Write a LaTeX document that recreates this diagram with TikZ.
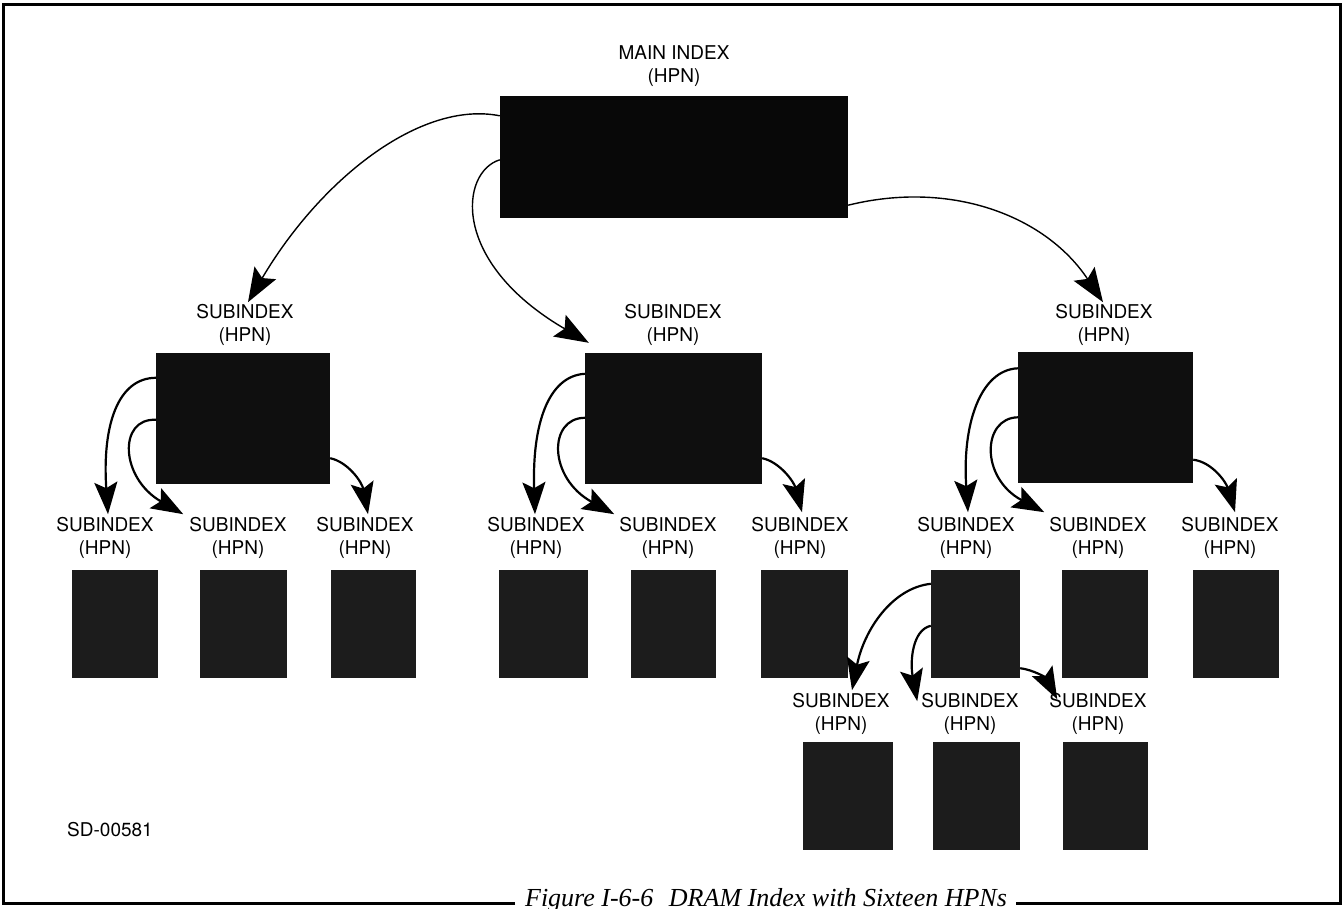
\documentclass[tikz,border=0pt]{standalone}
\usepackage{fontspec}
\usetikzlibrary{arrows.meta,calc}
\newfontfamily\lblfont{TeX Gyre Heros}
\newfontfamily\capfont{Liberation Serif}

\begin{document}
\begin{tikzpicture}[x=1pt,y=-1pt,
  lbl/.style={font=\lblfont\fontsize{19}{23}\selectfont, align=center, inner sep=0pt},
  bigbox/.style={fill=black!97, draw=none, inner sep=0pt},
  midbox/.style={fill=black!94, draw=none, inner sep=0pt, minimum height=131pt},
  smallbox/.style={fill=black!89, draw=none, inner sep=0pt, minimum height=108pt},
  thinarrow/.style={line width=1.4pt, -{Stealth[length=34pt,width=25pt,inset=6pt]}},
  thickarrow/.style={line width=2.2pt, -{Stealth[length=32pt,width=23pt,inset=6pt]}},
  frameline/.style={line width=3pt}
]
\useasboundingbox (0,0) rectangle (1344,909);

% outer frame, its bottom edge broken by the caption
\draw[frameline] (515,903) -- (3,903) -- (3,5) -- (1340,5) -- (1340,903) -- (1016,903);
\node[font=\capfont\itshape\fontsize{26}{30}\selectfont, anchor=base, inner sep=0pt] (cap) at (766,906) {Figure I-6-6\hspace{0.6em}DRAM Index with Sixteen HPNs};

% main index
\node[lbl] (mainlbl) at (674,66) {MAIN INDEX\\(HPN)};
\node[bigbox, minimum width=348pt, minimum height=122pt] (main) at (674,157) {};

% second level
\node[lbl] (l2a) at (245,325) {SUBINDEX\\(HPN)};
\node[lbl] (l2b) at (673,325) {SUBINDEX\\(HPN)};
\node[lbl] (l2c) at (1104,325) {SUBINDEX\\(HPN)};
\node[midbox, minimum width=174pt] (b2a) at (243,418.5) {};
\node[midbox, minimum width=177pt] (b2b) at (673.5,418.5) {};
\node[midbox, minimum width=175pt] (b2c) at (1105.5,417) {};

% third level
\foreach \n/\x in {a1/105,a2/238,a3/365,b1/536,b2/668,b3/800,c1/966,c2/1098,c3/1230}
  \node[lbl] (l3\n) at (\x,538) {SUBINDEX\\(HPN)};
\foreach \n/\x/\w in {a1/115/86,a2/243.5/87,a3/373.5/85,b1/543.5/89,b2/673.5/85,b3/804.5/87,c1/975.5/89,c2/1105/86,c3/1236/86}
  \node[smallbox, minimum width=\w pt] (b3\n) at (\x,624) {};

% fourth level
\foreach \n/\x in {a/841,b/970,c/1098}
  \node[lbl] (l4\n) at (\x,714) {SUBINDEX\\(HPN)};
\foreach \n/\x/\w in {a/848/90,b/976.5/87,c/1105.5/85}
  \node[smallbox, minimum width=\w pt] (b4\n) at (\x,796) {};

\node[font=\lblfont\fontsize{19}{23}\selectfont, inner sep=0pt] (sd) at (110,830) {SD-00581};

% main index pointers
\draw[thinarrow] ($(main.north west)+(0,20)$) .. controls (420,100) and (320,180) .. ([xshift=3pt,yshift=2pt]l2a.north);
\draw[thinarrow] ($(main.north west)+(0,64)$) .. controls (460,172) and (450,262) .. ($(b2b.north west)+(4,-10)$);
\draw[thinarrow] ($(main.south east)+(0,-13)$) .. controls (950,180) and (1045,215) .. ([xshift=-1pt,yshift=2pt]l2c.north);

% second level pointers
\draw[thickarrow] ($(b2a.north west)+(0,25)$) .. controls (118,378) and (102,425) .. ([xshift=3pt,yshift=3pt]l3a1.north);
\draw[thickarrow] ($(b2a.north west)+(0,67)$) .. controls (118,418) and (120,478) .. ([xshift=-6pt,yshift=3pt]l3a2.north west);
\draw[thickarrow] ($(b2a.south east)+(0,-26)$) .. controls (348,462) and (362,482) .. ([xshift=3pt,yshift=3pt]l3a3.north);

\draw[thickarrow] ($(b2b.north west)+(0,21)$) .. controls (548,376) and (532,425) .. ([xshift=-1pt,yshift=3pt]l3b1.north);
\draw[thickarrow] ($(b2b.north west)+(0,65)$) .. controls (548,418) and (548,478) .. ([xshift=-5pt,yshift=3pt]l3b2.north west);
\draw[thickarrow] ($(b2b.south east)+(0,-26)$) .. controls (780,462) and (794,482) .. ([xshift=2pt,yshift=5pt]l3b3.north);

\draw[thickarrow] ($(b2c.north west)+(0,17)$) .. controls (980,370) and (962,425) .. ([xshift=2pt,yshift=5pt]l3c1.north);
\draw[thickarrow] ($(b2c.north west)+(0,66)$) .. controls (982,418) and (980,478) .. ([xshift=-5pt,yshift=5pt]l3c2.north west);
\draw[thickarrow] ($(b2c.south east)+(0,-23)$) .. controls (1212,462) and (1226,482) .. ([xshift=5pt,yshift=5pt]l3c3.north);

% third level pointers
\draw[thickarrow] ($(b3c1.north west)+(0,14)$) .. controls (892,588) and (864,630) .. ([xshift=11pt,yshift=3pt]l4a.north);
\draw[thickarrow] ($(b3c1.north west)+(0,56)$) .. controls (912,630) and (910,662) .. ([xshift=-4pt,yshift=-8pt]l4b.north west);
\draw[thickarrow] ($(b3c1.south east)+(0,-10)$) .. controls (1034,670) and (1046,678) .. ([xshift=8pt,yshift=-6pt]l4c.north west);
\end{tikzpicture}
\end{document}
